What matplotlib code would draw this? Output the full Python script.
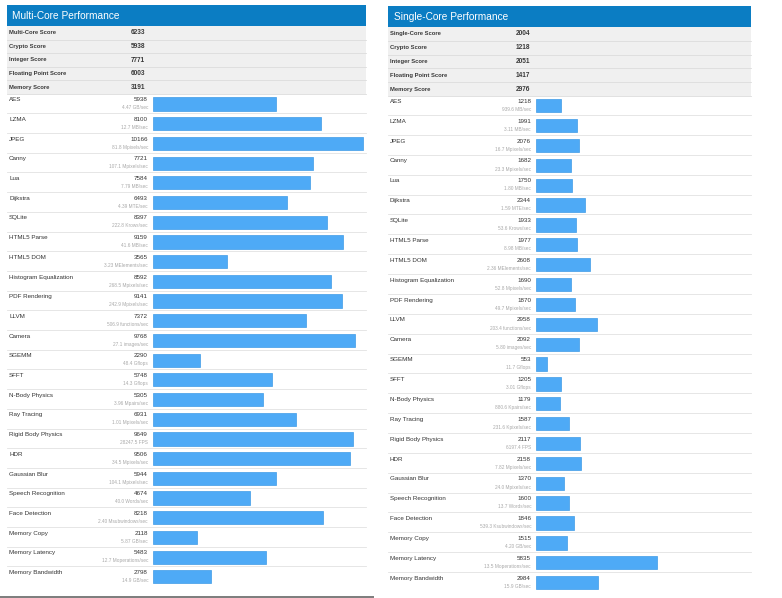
import matplotlib
matplotlib.use('Agg')
import numpy as np
import matplotlib.pyplot as plt
from matplotlib.patches import Rectangle
from matplotlib.transforms import blended_transform_factory

plt.rcParams['font.family'] = ['Liberation Sans', 'DejaVu Sans']

W, H = 782, 598

bench_names = [
    'AES', 'LZMA', 'JPEG', 'Canny', 'Lua', 'Dijkstra', 'SQLite',
    'HTML5 Parse', 'HTML5 DOM', 'Histogram Equalization', 'PDF Rendering',
    'LLVM', 'Camera', 'SGEMM', 'SFFT', 'N-Body Physics', 'Ray Tracing',
    'Rigid Body Physics', 'HDR', 'Gaussian Blur', 'Speech Recognition',
    'Face Detection', 'Memory Copy', 'Memory Latency', 'Memory Bandwidth',
]

multi_summary_names = ['Multi-Core Score', 'Crypto Score', 'Integer Score',
                       'Floating Point Score', 'Memory Score']
multi_summary = [6233, 5938, 7771, 6003, 3191]

single_summary_names = ['Single-Core Score', 'Crypto Score', 'Integer Score',
                        'Floating Point Score', 'Memory Score']
single_summary = [2004, 1218, 2051, 1417, 2976]

multi_scores = [5938, 8100, 10166, 7721, 7584, 6493, 8397, 9159, 3565, 8592,
                9141, 7372, 9768, 2290, 5748, 5305, 6931, 9649, 9506, 5944,
                4674, 8218, 2118, 5483, 2798]
multi_units = [
    '4.47 GB/sec', '12.7 MB/sec', '81.8 Mpixels/sec', '107.1 Mpixels/sec',
    '7.79 MB/sec', '4.39 MTE/sec', '222.8 Krows/sec', '41.6 MB/sec',
    '3.23 MElements/sec', '268.5 Mpixels/sec', '242.9 Mpixels/sec',
    '506.9 functions/sec', '27.1 images/sec', '48.4 Gflops', '14.3 Gflops',
    '3.96 Mpairs/sec', '1.01 Mpixels/sec', '28247.5 FPS', '34.5 Mpixels/sec',
    '104.1 Mpixels/sec', '40.0 Words/sec', '2.40 Msubwindows/sec',
    '5.87 GB/sec', '12.7 Moperations/sec', '14.9 GB/sec',
]

single_scores = [1218, 1991, 2076, 1682, 1750, 2344, 1933, 1977, 2608, 1690,
                 1870, 2958, 2092, 553, 1205, 1179, 1587, 2117, 2158, 1370,
                 1600, 1846, 1515, 5835, 2984]
single_units = [
    '939.6 MB/sec', '3.11 MB/sec', '16.7 Mpixels/sec', '23.3 Mpixels/sec',
    '1.80 MB/sec', '1.59 MTE/sec', '53.6 Krows/sec', '8.98 MB/sec',
    '2.36 MElements/sec', '52.8 Mpixels/sec', '49.7 Mpixels/sec',
    '203.4 functions/sec', '5.80 images/sec', '11.7 Gflops', '3.01 Gflops',
    '880.6 Kpairs/sec', '231.6 Kpixels/sec', '6197.4 FPS', '7.82 Mpixels/sec',
    '24.0 Mpixels/sec', '13.7 Words/sec', '539.3 Ksubwindows/sec',
    '4.20 GB/sec', '13.5 Moperations/sec', '15.9 GB/sec',
]

HEADER = '#0b7dc3'
BAR = '#4eaaf6'
BAR_EDGE = '#3f9be6'
SUMMARY_BG = '#f0f0f0'
SEP = '#e2e2e2'
PX_PER_POINT = 0.0207


def fx(px):
    return px / W


def fy(py):
    return 1 - py / H


def draw_panel(fig, g, title, sum_names, sum_vals, scores, units):
    # header
    fig.add_artist(Rectangle((fx(g['x0']), fy(g['hy1'])),
                             (g['x1'] - g['x0']) / W, (g['hy1'] - g['hy0']) / H,
                             transform=fig.transFigure, color=HEADER, lw=0))
    fig.text(fx(g['title_x']), fy((g['hy0'] + g['hy1']) / 2 + 0.5), title,
             color='white', fontsize=7.3, va='center', ha='left')

    # summary table
    sy0, rh = g['hy1'], g['sum_h']
    fig.add_artist(Rectangle((fx(g['x0']), fy(sy0 + 5 * rh)),
                             (g['x1'] - g['x0']) / W, 5 * rh / H,
                             transform=fig.transFigure, color=SUMMARY_BG, lw=0))
    for i, (name, val) in enumerate(zip(sum_names, sum_vals)):
        yc = sy0 + (i + 0.5) * rh
        fig.text(fx(g['label_x']), fy(yc), name, fontsize=4.2,
                 fontweight='bold', color='#3a3a3a', va='center', ha='left')
        fig.text(fx(g['sumval_x']), fy(yc), str(val), fontsize=4.7,
                 fontweight='bold', color='#3a3a3a', va='center', ha='left')
        ys = sy0 + (i + 1) * rh
        fig.add_artist(plt.Line2D([fx(g['x0']), fx(g['x1'])], [fy(ys), fy(ys)],
                                  transform=fig.transFigure, color='#dcdcdc',
                                  lw=0.6))

    # benchmark rows with bars
    n = len(scores)
    by0, by1 = g['by0'], g['by0'] + n * g['row_h']
    ax = fig.add_axes([fx(g['bar_x']), fy(by1),
                       (g['x1'] - g['bar_x']) / W, (by1 - by0) / H])
    ax.set_xlim(0, (g['x1'] - g['bar_x']) / PX_PER_POINT)
    ax.set_ylim(n, 0)
    ax.axis('off')
    rows = np.arange(n)
    ax.barh(rows + 0.53, scores, height=0.67, color=BAR,
            edgecolor=BAR_EDGE, linewidth=0.5)

    tr = blended_transform_factory(fig.transFigure, ax.transData)
    for k in range(1, n):
        ax.plot([fx(g['x0']), fx(g['x1'])], [k, k], transform=tr,
                color=SEP, lw=0.6, clip_on=False)
    for k, (name, sc, un) in enumerate(zip(bench_names, scores, units)):
        ax.text(fx(g['label_x']), k + 0.31, name, transform=tr, fontsize=4.5,
                color='#333333', va='center', ha='left')
        ax.text(fx(g['score_x']), k + 0.31, str(sc), transform=tr,
                fontsize=4.5, color='#333333', va='center', ha='right')
        ax.text(fx(g['score_x']), k + 0.72, un, transform=tr, fontsize=3.4,
                color='#a8a8a8', va='center', ha='right')


fig = plt.figure(figsize=(W / 100, H / 100), dpi=100)

left = dict(x0=7, x1=366, hy0=5, hy1=26, title_x=12, sum_h=13.6,
            label_x=9, sumval_x=131, score_x=148, bar_x=153,
            by0=93.6, row_h=19.7)
right = dict(x0=388, x1=751, hy0=6, hy1=27, title_x=394, sum_h=13.8,
             label_x=390, sumval_x=516, score_x=531, bar_x=536,
             by0=95.2, row_h=19.87)

draw_panel(fig, left, 'Multi-Core Performance', multi_summary_names,
           multi_summary, multi_scores, multi_units)
draw_panel(fig, right, 'Single-Core Performance', single_summary_names,
           single_summary, single_scores, single_units)

# grey rule under the left panel
fig.add_artist(Rectangle((0, 0), fx(374), 2.2 / H, transform=fig.transFigure,
                         color='#7f7f7f', lw=0))

fig.savefig('out.png', dpi=100)
